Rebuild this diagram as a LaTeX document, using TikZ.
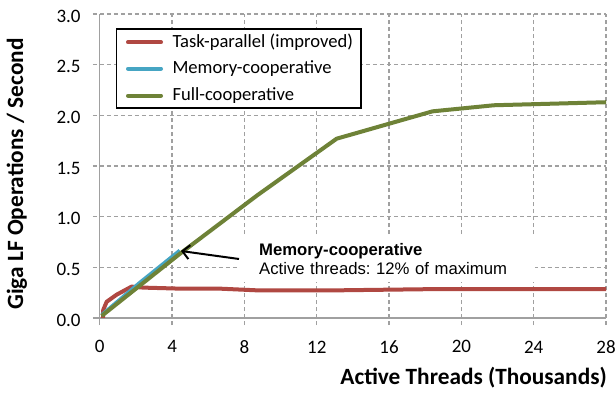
\documentclass[tikz,border=0pt]{standalone}
\usepackage{fontspec}
\setmainfont{Carlito}
\newfontfamily\arialf{Liberation Sans}
\usetikzlibrary{arrows.meta}
\definecolor{redc}{RGB}{176,72,66}
\definecolor{bluec}{RGB}{70,165,195}
\definecolor{greenc}{RGB}{110,130,55}
\definecolor{gridc}{RGB}{160,160,160}
\frenchspacing
\begin{document}
\begin{tikzpicture}[x=1pt,y=1pt,
  gridline/.style={gridc,line width=1.3pt,dash pattern=on 4pt off 3pt},
  axisline/.style={gridc,line width=1.3pt},
  series/.style={line width=4pt,line join=round},
  ticklab/.style={font=\fontsize{19}{21}\selectfont,inner sep=0pt},
  axtitle/.style={font=\fontsize{23.3}{25}\selectfont\bfseries,inner sep=0pt},
  legtext/.style={font=\fontsize{18.6}{20}\selectfont,inner sep=0pt,anchor=west},
  legline/.style={line width=4pt,line cap=round}]
\useasboundingbox (0,0) rectangle (615,393);
\fill[white] (0,0) rectangle (615,393);
\begin{scope}[shift={(99.8pt,75pt)},x=18.08pt,y=101.3pt]
  % grid
  \foreach \v in {0.5,1,1.5,2,2.5,3} \draw[gridline] (-0.39,\v) -- (28,\v);
  \foreach \u in {4,8,...,28} \draw[gridline] (\u,-0.07) -- (\u,3);
  \draw[axisline] (0,-0.07) -- (0,3);
  \draw[axisline] (-0.39,0) -- (28,0);
  % tick labels
  \foreach \v/\t [count=\i] in {0/0.0,0.5/0.5,1/1.0,1.5/1.5,2/2.0,2.5/2.5,3/3.0}
    \node[ticklab,anchor=east] (yl\i) at (-1.05,\v-0.02) {\t};
  \foreach \u [count=\i] in {0,4,...,28}
    \node[ticklab] (xl\i) at (\u,-0.285) {\u};
  % series
  \draw[series,redc] (0.19,0.0) -- (0.19,0.08) -- (0.38,0.16) -- (0.93,0.23) -- (1.76,0.31) -- (2.4,0.30) -- (4.4,0.29) -- (6.6,0.29) -- (8.7,0.273) -- (13.1,0.273) -- (18.4,0.285) -- (21.8,0.285) -- (28,0.285);
  \draw[series,bluec] (0.12,0.03) -- (2.2,0.345) -- (4.43,0.665);
  \draw[series,greenc] (0.1,0.02) -- (4.4,0.63) -- (8.7,1.21) -- (13.1,1.77) -- (18.4,2.04) -- (21.8,2.10) -- (28,2.13);
\end{scope}
% legend
\node[draw=black,line width=1.3pt,fill=white,minimum width=244.6pt,minimum height=79pt,inner sep=0pt,anchor=north west] (legend) at (115.7,364.7) {};
\draw[legline,redc] (128,350.7) -- (161,350.7);
\draw[legline,bluec] (128,324.3) -- (161,324.3);
\draw[legline,greenc] (128,297.3) -- (161,297.3);
\node[legtext] (lt1) at (172.3,350.7) {Task-parallel (improved)};
\node[legtext] (lt2) at (172.3,324.3) {Memory-cooperative};
\node[legtext] (lt3) at (172.3,297.3) {Full-cooperative};
% annotation
\node[fill=white,minimum width=276pt,minimum height=46pt,text width=257pt,inner xsep=19pt,inner ysep=0pt,align=left,anchor=west,font=\arialf\fontsize{16.7}{19.6}\selectfont] (ann) at (240,134) {\textbf{Memory-cooperative}\\Active threads: 12\% of maximum};
\coordinate (tip) at (181,142);
\draw[line width=2pt,-{Straight Barb[length=7pt,width=14pt,line width=2pt]}] (ann.west) ++(-1,0) coordinate (astart) -- (tip);
% axis titles
\node[axtitle,rotate=90] (ytitle) at (17,219) {Giga LF Operations / Second};
\node[axtitle,anchor=east] (xtitle) at (607,15) {Active Threads (Thousands)};
\end{tikzpicture}
\end{document}
